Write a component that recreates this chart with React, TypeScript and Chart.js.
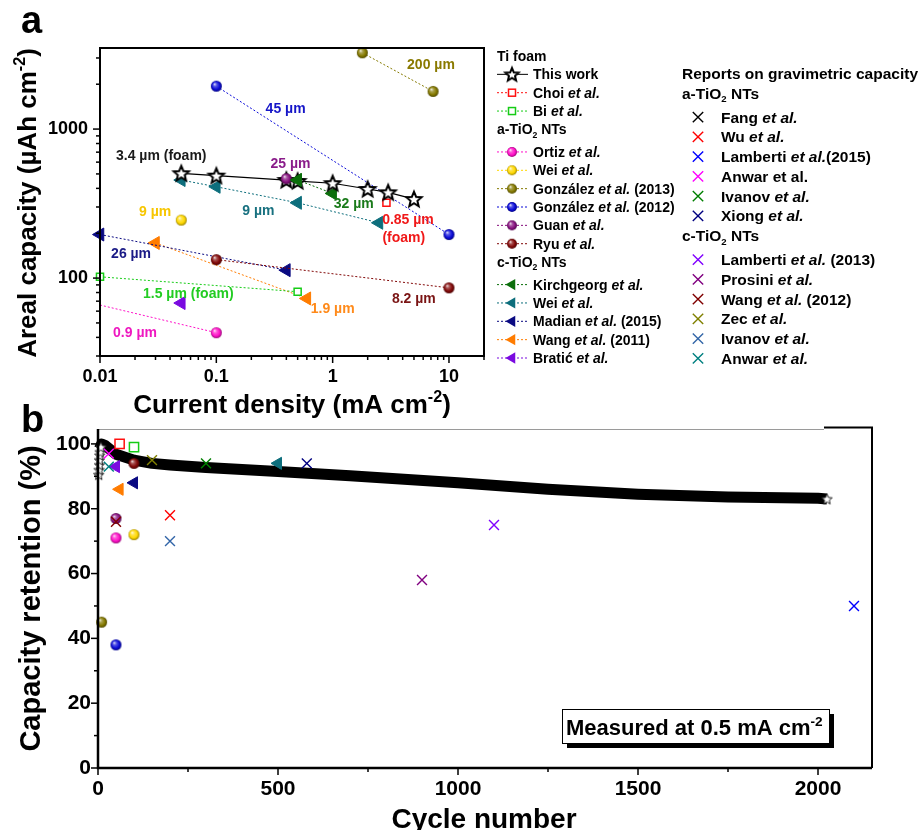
import React, { useEffect, useRef } from 'react';
import { Chart, registerables } from 'chart.js';

Chart.register(...registerables);

const FAMILY = '"Liberation Sans", Arial, Helvetica, sans-serif';
Chart.defaults.font.family = FAMILY;

// ---------- colours ----------
const COL = {
  choi: '#ff1010', bi: '#16cc16', ortiz: '#ff10c8', weiA: '#ffd800', gon13: '#857a00', gon12: '#0a0ad8',
  guan: '#86107e', ryu: '#820808', kirch: '#0b6e0b', weiC: '#0d6e7c', madian: '#0a0a82', wang11: '#ff7c00',
  bratic: '#7a0ae0', fang: '#000000', wu: '#ff0000', lam15: '#0000ff', anwarA: '#ff00ff', ivanovA: '#008000',
  xiong: '#000080', lam13: '#8000ff', prosini: '#800080', wang12: '#800000', zec: '#808000',
  ivanovC: '#3366a8', anwarC: '#008080',
};

// ---------- panel a: [current density (mA cm-2), areal capacity (µAh cm-2)] ----------
const aThisWork = [[0.05, 505], [0.1, 487], [0.4, 455], [0.5, 448], [1, 433], [2, 396], [3, 376], [5, 339]];
const aChoi = [[2.9, 320]];
const aBi = [[0.01, 102], [0.5, 81]];
const aOrtiz = [[0.005, 75], [0.1, 43]];
const aWeiA = [[0.05, 245]];
const aGonzalez2013 = [[1.8, 3250], [7.3, 1790]];
const aGonzalez2012 = [[0.1, 1940], [10, 196]];
const aGuan = [[0.4, 465]];
const aRyu = [[0.1, 133], [10, 86]];
const aKirchgeorg = [[0.5, 455], [1, 370]];
const aWeiC = [[0.05, 455], [0.1, 410], [0.5, 320], [2.5, 235]];
const aMadian = [[0.01, 196], [0.4, 113]];
const aWang2011 = [[0.03, 172], [0.6, 73]];
const aBratic = [[0.05, 68]];

const aXRange = [0.01, 20];
const aYRange = [30, 3500];

// thickness labels in panel a (data coordinates)
const aLabels = [
  { text: '3.4 µm (foam)', x: 0.0336, y: 671, color: '#1a1a1a' },
  { text: '25 µm', x: 0.434, y: 593, color: '#8a1c8a' },
  { text: '200 µm', x: 7.0, y: 2754, color: '#8a7a00' },
  { text: '45 µm', x: 0.394, y: 1391, color: '#1515c8' },
  { text: '32 µm', x: 1.52, y: 318, color: '#1a7a1a' },
  { text: '9 µm', x: 0.23, y: 286, color: '#17707f' },
  { text: '9 µm', x: 0.0298, y: 281, color: '#f7c600' },
  { text: '0.85 µm', x: 4.44, y: 249, color: '#f01818' },
  { text: '(foam)', x: 4.09, y: 188, color: '#f01818' },
  { text: '26 µm', x: 0.0185, y: 146.5, color: '#1a1a86' },
  { text: '1.5 µm (foam)', x: 0.0574, y: 80, color: '#22cc22' },
  { text: '1.9 µm', x: 1.0, y: 63.4, color: '#ff8a1a' },
  { text: '8.2 µm', x: 4.99, y: 74, color: '#7a1414' },
  { text: '0.9 µm', x: 0.02, y: 43.7, color: '#ee18c0' },
];

// ---------- panel b: [cycle number, capacity retention (%)] ----------
const bandCycles = [4, 10, 20, 50, 100, 150, 200, 300, 500, 700, 1000, 1250, 1500, 1750, 2000, 2025];
const bandRetention = [98.5, 100, 99.5, 96.8, 95, 94, 93.5, 92.7, 91.5, 90.2, 88, 86, 84.5, 83.6, 83.2, 83];
const bEarlyStars = [[2, 90.5], [3, 92], [4, 93.5], [4, 95], [5, 96.5], [6, 97.5], [8, 99]];
const bLastStar = [[2025, 83]];
const bChoi = [[60, 100]];
const bBi = [[100, 99]];
const bOrtiz = [[50, 71]];
const bWeiA = [[100, 72]];
const bGonzalez2013 = [[10, 45]];
const bGonzalez2012 = [[50, 38]];
const bGuan = [[50, 77]];
const bRyu = [[100, 94]];
const bWeiC = [[500, 94]];
const bMadian = [[100, 88]];
const bWang2011 = [[60, 86]];
const bBratic = [[50, 93]];
const bWu = [[200, 78]];
const bLamberti2015 = [[2100, 50]];
const bAnwarA = [[30, 97]];
const bIvanovA = [[300, 94]];
const bXiong = [[580, 94]];
const bLamberti2013 = [[1100, 75]];
const bProsini = [[900, 58]];
const bWang2012 = [[50, 76]];
const bZec = [[150, 95]];
const bIvanovC = [[200, 70]];
const bAnwarC = [[30, 93]];

const bXRange = [0, 2150];
const bYRange = [0, 104.6];

// ---------- legends ----------
const legendLeft = [
  { head: 'Ti foam' },
  { kind: 'star', color: '#000', text: 'This work', solid: true },
  { kind: 'square', color: COL.choi, text: 'Choi *et al.*' },
  { kind: 'square', color: COL.bi, text: 'Bi *et al.*' },
  { head: 'a-TiO_2_ NTs', gap: true },
  { kind: 'sphere', color: COL.ortiz, text: 'Ortiz *et al.*' },
  { kind: 'sphere', color: COL.weiA, text: 'Wei *et al.*' },
  { kind: 'sphere', color: COL.gon13, text: 'González *et al.* (2013)' },
  { kind: 'sphere', color: COL.gon12, text: 'González *et al.* (2012)' },
  { kind: 'sphere', color: COL.guan, text: 'Guan *et al.*' },
  { kind: 'sphere', color: COL.ryu, text: 'Ryu *et al.*' },
  { head: 'c-TiO_2_ NTs', gap: true },
  { kind: 'tri', color: COL.kirch, text: 'Kirchgeorg *et al.*' },
  { kind: 'tri', color: COL.weiC, text: 'Wei *et al.*' },
  { kind: 'tri', color: COL.madian, text: 'Madian *et al.* (2015)' },
  { kind: 'tri', color: COL.wang11, text: 'Wang *et al.* (2011)' },
  { kind: 'tri', color: COL.bratic, text: 'Bratić *et al.*' },
];
const legendRight = [
  { head: 'Reports on gravimetric capacity' },
  { head: 'a-TiO_2_ NTs', gap: true },
  { kind: 'cross', color: COL.fang, text: 'Fang *et al.*' },
  { kind: 'cross', color: COL.wu, text: 'Wu *et al.*' },
  { kind: 'cross', color: COL.lam15, text: 'Lamberti *et al.*(2015)' },
  { kind: 'cross', color: COL.anwarA, text: 'Anwar et al.' },
  { kind: 'cross', color: COL.ivanovA, text: 'Ivanov *et al.*' },
  { kind: 'cross', color: COL.xiong, text: 'Xiong *et al.*' },
  { head: 'c-TiO_2_ NTs', gap: true },
  { kind: 'cross', color: COL.lam13, text: 'Lamberti *et al.* (2013)' },
  { kind: 'cross', color: COL.prosini, text: 'Prosini *et al.*' },
  { kind: 'cross', color: COL.wang12, text: 'Wang *et al.* (2012)' },
  { kind: 'cross', color: COL.zec, text: 'Zec *et al.*' },
  { kind: 'cross', color: COL.ivanovC, text: 'Ivanov *et al.*' },
  { kind: 'cross', color: COL.anwarC, text: 'Anwar *et al.*' },
];

// ---------- helpers ----------
function hexRgb(h: string) {
  const s = h.length === 4 ? h.slice(1).split('').map((c) => c + c).join('') : h.slice(1);
  const n = parseInt(s, 16);
  return [(n >> 16) & 255, (n >> 8) & 255, n & 255];
}
function mix(a: string, b: string, t: number) {
  const pa = hexRgb(a), pb = hexRgb(b);
  const c = pa.map((v, i) => Math.round(v * (1 - t) + pb[i] * t));
  return `rgb(${c[0]},${c[1]},${c[2]})`;
}
const sphereCache = new Map<string, HTMLCanvasElement>();
function sphere(color: string, r: number) {
  const key = color + r;
  if (sphereCache.has(key)) return sphereCache.get(key)!;
  const c = document.createElement('canvas');
  const s = Math.ceil(2 * r + 2);
  c.width = s; c.height = s;
  const g = c.getContext('2d')!;
  const cx = s / 2, cy = s / 2;
  const grad = g.createRadialGradient(cx - r * 0.35, cy - r * 0.4, r * 0.05, cx, cy, r);
  grad.addColorStop(0, mix(color, '#ffffff', 0.85));
  grad.addColorStop(0.3, mix(color, '#ffffff', 0.3));
  grad.addColorStop(0.7, color);
  grad.addColorStop(1, mix(color, '#000000', 0.4));
  g.fillStyle = grad;
  g.beginPath(); g.arc(cx, cy, r, 0, Math.PI * 2); g.fill();
  sphereCache.set(key, c);
  return c;
}
function star(R: number, fill: string, stroke: string, lw: number) {
  const c = document.createElement('canvas');
  const s = Math.ceil(2 * R + 2 * lw + 2);
  c.width = s; c.height = s;
  const g = c.getContext('2d')!;
  const cx = s / 2, cy = s / 2 + R * 0.08;
  g.beginPath();
  for (let i = 0; i < 10; i++) {
    const ang = -Math.PI / 2 + (i * Math.PI) / 5;
    const rr = i % 2 ? R * 0.45 : R;
    const px = cx + rr * Math.cos(ang), py = cy + rr * Math.sin(ang);
    if (i === 0) g.moveTo(px, py); else g.lineTo(px, py);
  }
  g.closePath();
  g.fillStyle = fill; g.fill();
  g.lineWidth = lw; g.strokeStyle = stroke; g.lineJoin = 'miter'; g.stroke();
  return c;
}

type Run = { t: string; it?: boolean; sub?: boolean; sup?: boolean };
function parseRich(s: string): Run[] {
  const out: Run[] = [];
  const re = /\*([^*]+)\*|_([^_]+)_|\^([^^]+)\^/g;
  let last = 0;
  let m: RegExpExecArray | null;
  while ((m = re.exec(s))) {
    if (m.index > last) out.push({ t: s.slice(last, m.index) });
    if (m[1]) out.push({ t: m[1], it: true });
    else if (m[2]) out.push({ t: m[2], sub: true });
    else out.push({ t: m[3], sup: true });
    last = re.lastIndex;
  }
  if (last < s.length) out.push({ t: s.slice(last) });
  return out;
}
const fontOf = (size: number, it?: boolean) => `${it ? 'italic ' : ''}bold ${size}px ${FAMILY}`;
function drawRich(ctx: CanvasRenderingContext2D, s: string, x: number, y: number, size: number, color: string, align = 'left') {
  const runs = parseRich(s);
  const sizes = runs.map((r) => (r.sub || r.sup ? size * 0.62 : size));
  let w = 0;
  const ws = runs.map((r, i) => {
    ctx.font = fontOf(sizes[i], r.it);
    const m = ctx.measureText(r.t).width;
    w += m;
    return m;
  });
  let cx = align === 'center' ? x - w / 2 : align === 'right' ? x - w : x;
  ctx.fillStyle = color;
  ctx.textBaseline = 'alphabetic';
  ctx.textAlign = 'left';
  runs.forEach((r, i) => {
    ctx.font = fontOf(sizes[i], r.it);
    const dy = r.sup ? -size * 0.42 : r.sub ? size * 0.24 : 0;
    ctx.fillText(r.t, cx, y + dy);
    cx += ws[i];
  });
}
function drawMarker(ctx: CanvasRenderingContext2D, kind: string, color: string, x: number, y: number, starImg: HTMLCanvasElement) {
  ctx.save();
  if (kind === 'star') {
    ctx.drawImage(starImg, x - starImg.width / 2, y - starImg.height / 2);
  } else if (kind === 'sphere') {
    const img = sphere(color, 5);
    ctx.drawImage(img, x - img.width / 2, y - img.height / 2);
  } else if (kind === 'square') {
    ctx.fillStyle = '#fff'; ctx.strokeStyle = color; ctx.lineWidth = 1.5;
    ctx.fillRect(x - 3.5, y - 3.5, 7, 7); ctx.strokeRect(x - 3.5, y - 3.5, 7, 7);
  } else if (kind === 'tri') {
    const r = 6.5;
    ctx.fillStyle = color;
    ctx.beginPath();
    ctx.moveTo(x - r, y);
    ctx.lineTo(x + r * 0.5, y - r * 0.866);
    ctx.lineTo(x + r * 0.5, y + r * 0.866);
    ctx.closePath(); ctx.fill();
  } else if (kind === 'cross') {
    const h = 5.2;
    ctx.strokeStyle = color; ctx.lineWidth = 1.4;
    ctx.beginPath();
    ctx.moveTo(x - h, y - h); ctx.lineTo(x + h, y + h);
    ctx.moveTo(x + h, y - h); ctx.lineTo(x - h, y + h);
    ctx.stroke();
  }
  ctx.restore();
}
const pts = (arr: number[][]) => arr.map(([x, y]) => ({ x, y }));
const niceMantissa = (v: number) => {
  const e = Math.floor(Math.log10(v) + 1e-9);
  const m = v / Math.pow(10, e);
  return Math.abs(m - Math.round(m)) < 1e-6 ? Math.round(m) : 0;
};

// ---------- dataset factories ----------
const sq = (data: number[][], color: string, r: number) => ({
  data: pts(data), pointStyle: 'rect', pointRadius: r, pointBackgroundColor: '#fff',
  pointBorderColor: color, pointBorderWidth: 1.5, clip: false,
});
const tri = (data: number[][], color: string, r: number) => ({
  data: pts(data), pointStyle: 'triangle', pointRotation: -90, pointRadius: r,
  pointBackgroundColor: color, pointBorderColor: color, pointBorderWidth: 1, clip: false,
});
const sph = (data: number[][], color: string, r: number) => ({
  data: pts(data), pointStyle: sphere(color, r), pointRadius: r, clip: false,
});
const crs = (data: number[][], color: string, r: number) => ({
  data: pts(data), pointStyle: 'crossRot', pointRadius: r, pointBorderColor: color,
  pointBorderWidth: 1.4, clip: false,
});
const dotted = (ds: any, color: string) => ({
  ...ds, showLine: true, borderColor: color, borderWidth: 1, borderDash: [2, 2],
});

export default function App() {
  const refA = useRef<HTMLCanvasElement>(null);
  const refB = useRef<HTMLCanvasElement>(null);

  useEffect(() => {
    const starA = star(8, '#ffffff', '#000000', 2);
    const starLegend = star(7, '#ffffff', '#000000', 2);
    const starB = star(5.5, '#ffffff', '#222222', 1);

    const tickFontA = { family: FAMILY, size: 18, weight: 'bold' as const };
    const tickFontB = { family: FAMILY, size: 21, weight: 'bold' as const };

    const panelA = {
      id: 'panelA',
      afterDraw(chart: any) {
        const { ctx, chartArea: a } = chart;
        const xs = chart.scales.x, ys = chart.scales.y;
        ctx.save();
        ctx.strokeStyle = '#000';
        ctx.lineWidth = 1.5;
        xs.ticks.forEach((t: any) => {
          const m = niceMantissa(t.value);
          if (!m) return;
          const px = xs.getPixelForValue(t.value);
          ctx.beginPath(); ctx.moveTo(px, a.bottom); ctx.lineTo(px, a.bottom + (m === 1 ? 7 : 4)); ctx.stroke();
        });
        ys.ticks.forEach((t: any) => {
          const m = niceMantissa(t.value);
          if (!m) return;
          const py = ys.getPixelForValue(t.value);
          ctx.beginPath(); ctx.moveTo(a.left, py); ctx.lineTo(a.left - (m === 1 ? 7 : 4), py); ctx.stroke();
        });
        ctx.lineWidth = 2;
        ctx.strokeRect(a.left, a.top, a.right - a.left, a.bottom - a.top);

        // thickness labels
        aLabels.forEach((l) => {
          drawRich(ctx, l.text, xs.getPixelForValue(l.x), ys.getPixelForValue(l.y) + 5, 14, l.color, 'center');
        });

        // axis titles
        drawRich(ctx, 'Current density (mA cm^-2^)', (a.left + a.right) / 2, 413, 26, '#000', 'center');
        ctx.save();
        ctx.translate(0, (a.top + a.bottom) / 2 + 1);
        ctx.rotate(-Math.PI / 2);
        drawRich(ctx, 'Areal capacity (µAh cm^-2^)', 0, 36, 26, '#000', 'center');
        ctx.restore();
        drawRich(ctx, 'a', 21, 33, 38, '#000', 'left');

        // legend left
        let y = 56;
        legendLeft.forEach((e: any, i: number) => {
          if (i > 0) y += 18.35 + ((legendLeft[i - 1] as any).gap ? 4.2 : 0);
          if (e.head) {
            drawRich(ctx, e.head, 497, y + 5, 14, '#000', 'left');
          } else {
            ctx.save();
            ctx.strokeStyle = e.solid ? '#000' : e.color;
            ctx.lineWidth = 1;
            ctx.setLineDash(e.solid ? [] : [2, 2]);
            ctx.beginPath(); ctx.moveTo(497, y); ctx.lineTo(528, y); ctx.stroke();
            ctx.restore();
            drawMarker(ctx, e.kind, e.color, 512, y, starLegend);
            drawRich(ctx, e.text, 533, y + 5, 14, '#000', 'left');
          }
        });
        // legend right
        y = 73.3;
        legendRight.forEach((e: any, i: number) => {
          if (i > 0) y += 19.75 + ((legendRight[i - 1] as any).gap ? 4.3 : 0);
          if (e.head) {
            drawRich(ctx, e.head, 682, y + 5.5, 15.5, '#000', 'left');
          } else {
            drawMarker(ctx, e.kind, e.color, 698, y, starLegend);
            drawRich(ctx, e.text, 721, y + 5.5, 15.5, '#000', 'left');
          }
        });
        ctx.restore();
      },
    };

    const panelB = {
      id: 'panelB',
      afterDraw(chart: any) {
        const { ctx, chartArea: a } = chart;
        const xs = chart.scales.x, ys = chart.scales.y;
        ctx.save();
        ctx.strokeStyle = '#000';
        ctx.lineWidth = 1.5;
        ys.ticks.forEach((t: any) => {
          const v = t.value;
          if (!Number.isInteger(v) || v % 10 !== 0) return;
          const py = ys.getPixelForValue(v);
          ctx.beginPath(); ctx.moveTo(a.left, py); ctx.lineTo(a.left - (v % 20 === 0 ? 7 : 4), py); ctx.stroke();
        });
        xs.ticks.forEach((t: any) => {
          const v = t.value;
          if (!Number.isInteger(v) || v % 250 !== 0) return;
          const px = xs.getPixelForValue(v);
          ctx.beginPath(); ctx.moveTo(px, a.bottom); ctx.lineTo(px, a.bottom + (v % 500 === 0 ? 7 : 4)); ctx.stroke();
        });
        // frame
        ctx.strokeStyle = '#9a9a9a'; ctx.lineWidth = 1;
        ctx.beginPath(); ctx.moveTo(a.left, a.top + 0.5); ctx.lineTo(a.right - 48, a.top + 0.5); ctx.stroke();
        ctx.strokeStyle = '#000'; ctx.lineWidth = 2;
        ctx.beginPath(); ctx.moveTo(a.right - 48, a.top - 1.5); ctx.lineTo(a.right, a.top - 1.5); ctx.lineTo(a.right, a.bottom); ctx.stroke();
        ctx.lineWidth = 2.5;
        ctx.beginPath(); ctx.moveTo(a.left, a.top); ctx.lineTo(a.left, a.bottom); ctx.lineTo(a.right, a.bottom); ctx.stroke();

        // note box
        const bx = 562, by = 309, bw = 267, bh = 34;
        ctx.fillStyle = '#000';
        ctx.fillRect(bx + 5, by + 5, bw, bh);
        ctx.fillStyle = '#fff';
        ctx.fillRect(bx, by, bw, bh);
        ctx.lineWidth = 1; ctx.strokeStyle = '#000';
        ctx.strokeRect(bx + 0.5, by + 0.5, bw, bh);
        drawRich(ctx, 'Measured at 0.5 mA cm^-2^', bx + 4, by + 26, 22, '#000', 'left');

        // titles
        drawRich(ctx, 'Cycle number', 484, 428, 28, '#000', 'center');
        ctx.save();
        ctx.translate(0, (a.top + a.bottom) / 2);
        ctx.rotate(-Math.PI / 2);
        drawRich(ctx, 'Capacity retention (%)', 0, 40, 29, '#000', 'center');
        ctx.restore();
        drawRich(ctx, 'b', 21, 32, 38, '#000', 'left');
        ctx.restore();
      },
    };

    const chartA = new Chart(refA.current!, {
      type: 'scatter',
      data: {
        datasets: [
          tri(aKirchgeorg.slice(0, 1), COL.kirch, 7.5),
          sph(aGuan, COL.guan, 5.5),
          {
            data: pts(aThisWork), showLine: true, borderColor: '#000', borderWidth: 1.2,
            pointStyle: starA, pointRadius: 8, clip: false,
          },
          dotted(tri(aKirchgeorg, COL.kirch, 7.5), COL.kirch),
          sq(aChoi, COL.choi, 5),
          dotted(sq(aBi, COL.bi, 5), COL.bi),
          { ...dotted(sph(aOrtiz, COL.ortiz, 5.5), COL.ortiz), clip: 0 },
          sph(aWeiA, COL.weiA, 5.5),
          dotted(sph(aGonzalez2013, COL.gon13, 5.5), COL.gon13),
          dotted(sph(aGonzalez2012, COL.gon12, 5.5), COL.gon12),
          dotted(sph(aRyu, COL.ryu, 5.5), COL.ryu),
          dotted(tri(aWeiC, COL.weiC, 7.5), COL.weiC),
          dotted(tri(aMadian, COL.madian, 7.5), COL.madian),
          dotted(tri(aWang2011, COL.wang11, 7.5), COL.wang11),
          tri(aBratic, COL.bratic, 7.5),
        ] as any,
      },
      options: {
        responsive: false,
        maintainAspectRatio: false,
        devicePixelRatio: 1,
        animation: false,
        events: [],
        layout: { padding: { left: 0, top: 48, right: 436, bottom: 0 } },
        plugins: { legend: { display: false }, tooltip: { enabled: false } },
        scales: {
          x: {
            type: 'logarithmic', min: aXRange[0], max: aXRange[1],
            grid: { display: false, drawTicks: false }, border: { display: false },
            ticks: {
              autoSkip: false, maxRotation: 0, padding: 10, color: '#000', font: tickFontA,
              callback: (v: any) => (niceMantissa(Number(v)) === 1 ? String(v) : ''),
            },
            afterFit: (s: any) => { s.height = 64; },
          },
          y: {
            type: 'logarithmic', min: aYRange[0], max: aYRange[1],
            grid: { display: false, drawTicks: false }, border: { display: false },
            ticks: {
              autoSkip: false, padding: 12, color: '#000', font: tickFontA,
              callback: (v: any) => (niceMantissa(Number(v)) === 1 ? String(v) : ''),
            },
            afterFit: (s: any) => { s.width = 100; },
          },
        },
      } as any,
      plugins: [panelA],
    });

    const chartB = new Chart(refB.current!, {
      type: 'scatter',
      data: {
        datasets: [
          crs(bWu, COL.wu, 7),
          crs(bLamberti2015, COL.lam15, 7),
          crs(bAnwarA, COL.anwarA, 7),
          crs(bIvanovA, COL.ivanovA, 7),
          crs(bXiong, COL.xiong, 7),
          crs(bLamberti2013, COL.lam13, 7),
          crs(bProsini, COL.prosini, 7),
          crs(bWang2012, COL.wang12, 7),
          crs(bZec, COL.zec, 7),
          crs(bIvanovC, COL.ivanovC, 7),
          crs(bAnwarC, COL.anwarC, 7),
          tri(bWeiC, COL.weiC, 7),
          tri(bMadian, COL.madian, 7),
          tri(bWang2011, COL.wang11, 7),
          tri(bBratic, COL.bratic, 7),
          sph(bOrtiz, COL.ortiz, 5.5),
          sph(bWeiA, COL.weiA, 5.5),
          sph(bGonzalez2013, COL.gon13, 5.5),
          sph(bGonzalez2012, COL.gon12, 5.5),
          sph(bGuan, COL.guan, 5.5),
          sph(bRyu, COL.ryu, 5.5),
          sq(bChoi, COL.choi, 6.5),
          sq(bBi, COL.bi, 6.5),
          { data: pts(bLastStar), pointStyle: starB, pointRadius: 5.5, clip: false },
          { data: pts(bEarlyStars), pointStyle: starB, pointRadius: 5.5, clip: false },
          {
            data: bandCycles.map((c, i) => ({ x: c, y: bandRetention[i] })),
            showLine: true, borderColor: '#000', borderWidth: 11, borderJoinStyle: 'round',
            pointRadius: 0, clip: false,
          },
        ] as any,
      },
      options: {
        responsive: false,
        maintainAspectRatio: false,
        devicePixelRatio: 1,
        animation: false,
        events: [],
        layout: { padding: { left: 0, top: 29, right: 48, bottom: 0 } },
        plugins: { legend: { display: false }, tooltip: { enabled: false } },
        scales: {
          x: {
            type: 'linear', min: bXRange[0], max: bXRange[1],
            grid: { display: false, drawTicks: false }, border: { display: false },
            ticks: {
              stepSize: 250, includeBounds: false, autoSkip: false, maxRotation: 0, padding: 9, color: '#000', font: tickFontB,
              callback: (v: any) => (Number(v) % 500 === 0 ? String(v) : ''),
            },
            afterFit: (s: any) => { s.height = 62; },
          },
          y: {
            type: 'linear', min: bYRange[0], max: bYRange[1],
            grid: { display: false, drawTicks: false }, border: { display: false },
            ticks: {
              stepSize: 10, includeBounds: false, autoSkip: false, padding: 7, color: '#000', font: tickFontB,
              callback: (v: any) => (Number.isInteger(Number(v)) && Number(v) % 20 === 0 ? String(v) : ''),
            },
            afterFit: (s: any) => { s.width = 98; },
          },
        },
      } as any,
      plugins: [panelB],
    });

    return () => {
      chartA.destroy();
      chartB.destroy();
    };
  }, []);

  return (
    <div style={{ position: 'absolute', left: 0, top: 0, width: 920, height: 830, background: '#fff', overflow: 'hidden' }}>
      <canvas ref={refA} width={920} height={420} style={{ position: 'absolute', left: 0, top: 0, width: 920, height: 420 }} />
      <canvas ref={refB} width={920} height={430} style={{ position: 'absolute', left: 0, top: 400, width: 920, height: 430 }} />
    </div>
  );
}
